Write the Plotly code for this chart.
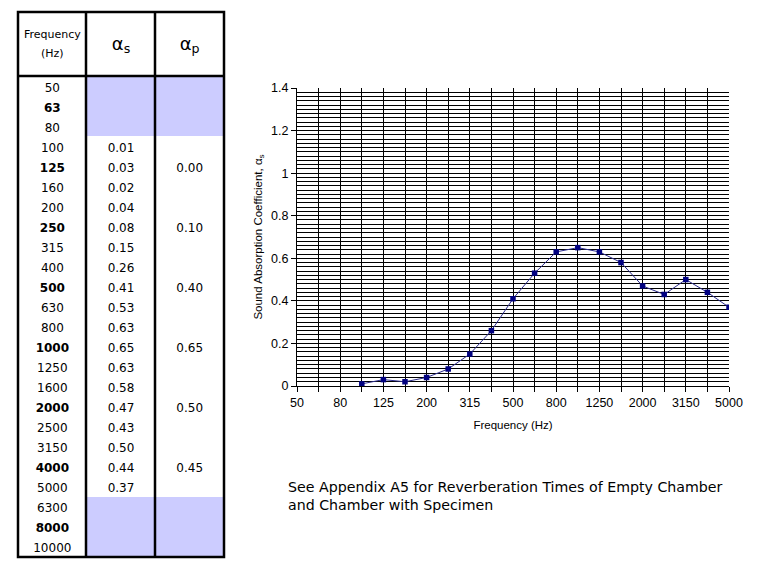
import plotly.graph_objects as go

# ---------------- data ----------------
table_freqs = [50, 63, 80, 100, 125, 160, 200, 250, 315, 400, 500, 630, 800,
               1000, 1250, 1600, 2000, 2500, 3150, 4000, 5000, 6300, 8000, 10000]
octave_freqs = [63, 125, 250, 500, 1000, 2000, 4000, 8000]

alpha_s_freqs = [100, 125, 160, 200, 250, 315, 400, 500, 630, 800,
                 1000, 1250, 1600, 2000, 2500, 3150, 4000, 5000]
alpha_s = [0.01, 0.03, 0.02, 0.04, 0.08, 0.15, 0.26, 0.41, 0.53, 0.63,
           0.65, 0.63, 0.58, 0.47, 0.43, 0.50, 0.44, 0.37]

alpha_p_freqs = [125, 250, 500, 1000, 2000, 4000]
alpha_p = [0.00, 0.10, 0.40, 0.65, 0.50, 0.45]

chart_categories = [50, 63, 80, 100, 125, 160, 200, 250, 315, 400, 500, 630,
                    800, 1000, 1250, 1600, 2000, 2500, 3150, 4000, 5000]
chart_tick_labels = ["50", "80", "125", "200", "315", "500", "800",
                     "1250", "2000", "3150", "5000"]

header_labels = ["Frequency", "(Hz)", "α<sub>s</sub>", "α<sub>p</sub>"]

note_text = ("See Appendix A5 for Reverberation Times of Empty Chamber<br>"
             "and Chamber with Specimen")

W, H = 767, 573
OFF = 8  # page body margin offset
SHADE = "#CCCCFF"
TEXT_NUDGE = 0.12  # small downward nudge of table text within its row


def px(x):
    return (x - OFF) / W


def py(y):
    return 1 - (y - OFF) / H


# ---------------- build table ----------------
as_map = dict(zip(alpha_s_freqs, alpha_s))
ap_map = dict(zip(alpha_p_freqs, alpha_p))
n_rows = len(table_freqs)
rows = list(range(n_rows))

shade_z = [[0, 0 if f in as_map else 1, 0 if f in as_map else 1]
           for f in table_freqs]

txt_x, txt_y, txt = [], [], []
for r, f in enumerate(table_freqs):
    ry = r + TEXT_NUDGE
    txt_x.append(0); txt_y.append(ry)
    txt.append(f"<b>{f}</b>" if f in octave_freqs else str(f))
    if f in as_map:
        txt_x.append(1); txt_y.append(ry); txt.append(f"{as_map[f]:.2f}")
    if f in ap_map:
        txt_x.append(2); txt_y.append(ry); txt.append(f"{ap_map[f]:.2f}")

HEADER_ROWS = 3.2  # header height in row units (64 px / 20 px)

fig = go.Figure()

fig.add_trace(go.Heatmap(
    z=shade_z, x=[0, 1, 2], y=rows,
    colorscale=[[0, "white"], [1, SHADE]], zmin=0, zmax=1,
    showscale=False, hoverinfo="skip", xaxis="x2", yaxis="y2",
))

fig.add_trace(go.Scatter(
    x=txt_x, y=txt_y, text=txt, mode="text",
    textposition="middle center",
    textfont=dict(family="DejaVu Sans", size=12, color="black"),
    hoverinfo="skip", showlegend=False, xaxis="x2", yaxis="y2",
))

# header texts
fig.add_trace(go.Scatter(
    x=[0, 0], y=[-2.52, -1.58], text=header_labels[:2], mode="text",
    textposition="middle center",
    textfont=dict(family="DejaVu Sans", size=11, color="black"),
    hoverinfo="skip", showlegend=False, xaxis="x2", yaxis="y2",
))
fig.add_trace(go.Scatter(
    x=[1, 2], y=[-2.05, -2.05], text=header_labels[2:], mode="text",
    textposition="middle center",
    textfont=dict(family="DejaVu Sans", size=18, color="black"),
    hoverinfo="skip", showlegend=False, xaxis="x2", yaxis="y2",
))

# ---------------- chart ----------------
x_idx = [chart_categories.index(f) for f in alpha_s_freqs]
fig.add_trace(go.Scatter(
    x=x_idx, y=alpha_s, mode="lines+markers",
    line=dict(color="#2B2B8C", width=1),
    marker=dict(symbol="square", size=5.5, color="#000080"),
    showlegend=False, xaxis="x", yaxis="y",
))

tick_idx = [chart_categories.index(int(t)) for t in chart_tick_labels]

border = dict(color="black", width=2.5)

fig.update_layout(
    width=W, height=H,
    margin=dict(l=0, r=0, t=0, b=0, pad=0, autoexpand=False),
    paper_bgcolor="white", plot_bgcolor="white",
    font=dict(family="Liberation Sans", size=12, color="black"),
    xaxis=dict(
        domain=[px(297), px(729)],
        range=[0, len(chart_categories) - 1],
        tickmode="array", tickvals=tick_idx, ticktext=chart_tick_labels,
        showgrid=True, gridcolor="black", gridwidth=1,
        ticks="outside", ticklen=5, tickcolor="black",
        showline=True, linecolor="black", linewidth=1,
        zeroline=False, automargin=False,
        minor=dict(tickmode="linear", tick0=0, dtick=1, showgrid=True,
                   gridcolor="black", gridwidth=1, ticks="outside",
                   ticklen=5, tickcolor="black"),
        tickfont=dict(size=12.5),
        title=dict(text="Frequency (Hz)", font=dict(size=11.5), standoff=11),
        fixedrange=True,
    ),
    yaxis=dict(
        domain=[py(386), py(88)],
        range=[0, 1.4], dtick=0.2, tick0=0,
        showgrid=True, gridcolor="black", gridwidth=1,
        ticks="outside", ticklen=5, tickcolor="black",
        showline=True, linecolor="black", linewidth=1,
        zeroline=False, automargin=False,
        minor=dict(dtick=0.02, showgrid=True, gridcolor="black", gridwidth=1),
        tickfont=dict(size=12.5),
        title=dict(text="Sound Absorption Coefficient, α<sub>s</sub>",
                   font=dict(size=11.5), standoff=6),
        fixedrange=True,
    ),
    xaxis2=dict(
        domain=[px(18), px(224)], range=[-0.5, 2.5], visible=False,
        fixedrange=True, anchor="y2", automargin=False,
    ),
    yaxis2=dict(
        domain=[py(557), py(12)],
        range=[n_rows - 0.5, -0.5 - HEADER_ROWS], visible=False,
        fixedrange=True, anchor="x2", automargin=False,
    ),
    annotations=[dict(
        text=note_text, xref="paper", yref="paper",
        x=px(286), y=py(477), xanchor="left", yanchor="top",
        align="left", showarrow=False,
        font=dict(family="DejaVu Sans", size=14.2, color="black"),
    )],
    shapes=[
        dict(type="rect", xref="paper", yref="paper",
             x0=px(18), x1=px(224), y0=py(557), y1=py(12), line=border),
        dict(type="line", xref="paper", yref="paper",
             x0=px(86), x1=px(86), y0=py(557), y1=py(12), line=border),
        dict(type="line", xref="paper", yref="paper",
             x0=px(155), x1=px(155), y0=py(557), y1=py(12), line=border),
        dict(type="line", xref="paper", yref="paper",
             x0=px(18), x1=px(224), y0=py(76), y1=py(76), line=border),
    ],
)

fig.write_html("out.html")
